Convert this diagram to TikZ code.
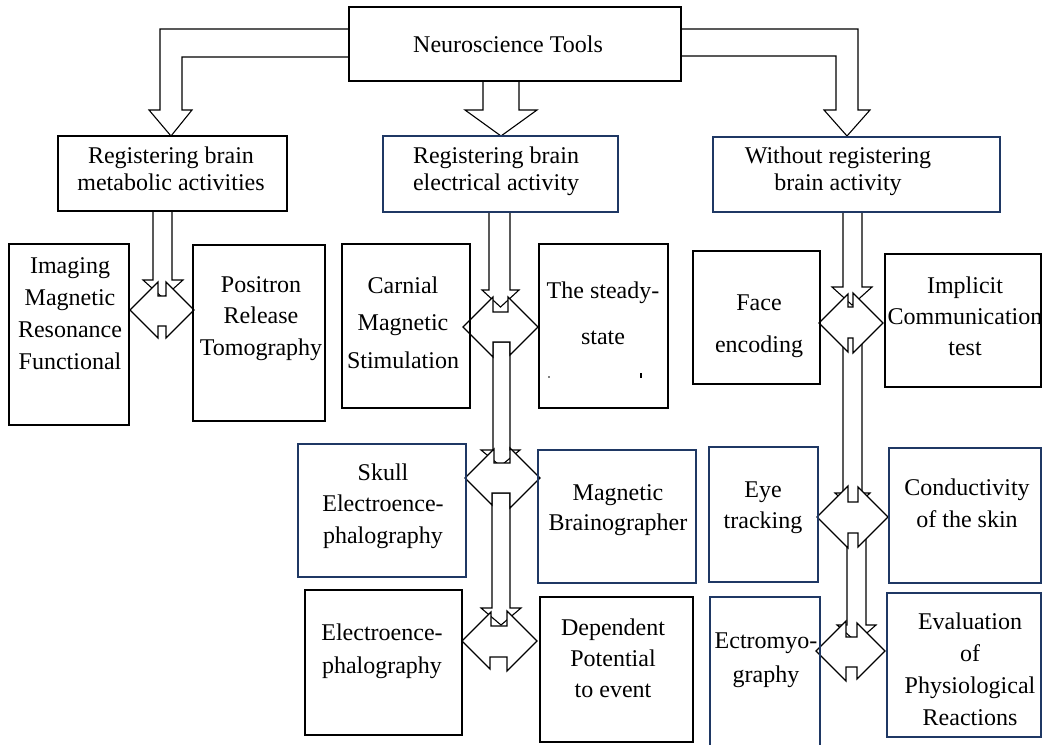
\documentclass[tikz,border=0pt]{standalone}
\usepackage{fontspec}
\setmainfont{Liberation Serif}
\usetikzlibrary{fit}
\definecolor{navy}{RGB}{31,56,100}
\tikzset{
  blk/.style={draw=black, line width=2.7pt, inner sep=0pt},
  nvy/.style={draw=navy, line width=2.5pt, inner sep=0pt},
  txt/.style={align=center, inner sep=0pt, anchor=base, font=\fontsize{24}{#1}\selectfont},
  txt/.default=32,
  blockarrow/.style={draw=black, fill=white, line width=1.1pt, line join=miter},
}
\newcommand\dnarrow[7]{%
  \draw[blockarrow] (#1,#3) -- (#1,#4) -- (#5,#4) -- ({(#5+#6)/2},#7) -- (#6,#4) -- (#2,#4) -- (#2,#3) -- cycle;}
\newcommand\junc[9]{%
  \pgfmathsetmacro\jtly{#2-#3+abs(#4-#1)}%
  \pgfmathsetmacro\jtry{#2-#3+abs(#5-#1)}%
  \pgfmathsetmacro\jbly{#2+#3-abs(#7-#1)}%
  \pgfmathsetmacro\jbry{#2+#3-abs(#8-#1)}%
  \draw[blockarrow] ({#1-#3},#2) -- (#4,\jtly) -- (#4,#6) -- (#5,#6) -- (#5,\jtry) -- ({#1+#3},#2) -- (#8,\jbry) -- (#8,#9) -- (#7,#9) -- (#7,\jbly) -- cycle;}
\begin{document}
\begin{tikzpicture}[x=1pt,y=-1pt]
\useasboundingbox (0,0) rectangle (1043,744);
\clip (0,0) rectangle (1043,744);
\fill[white] (0,0) rectangle (1043,744);

% top level arrows
\draw[blockarrow] (349,29) -- (160,29) -- (160,110) -- (149,110) -- (171,136) -- (192,110) -- (182,110) -- (182,57) -- (349,57);
\draw[blockarrow] (483,81) -- (483,110) -- (465,110) -- (501,136) -- (537,110) -- (519,110) -- (519,81);
\draw[blockarrow] (681,29) -- (858,29) -- (858,110) -- (870,110) -- (847,136) -- (824,110) -- (836,110) -- (836,56) -- (681,56);

% column arrows
\dnarrow{153}{172}{211}{280}{143}{183}{298}
\dnarrow{489}{510}{212}{290}{482}{519}{307}
\dnarrow{493}{510}{342}{450}{481}{520}{466}
\dnarrow{492}{510}{493}{608}{481}{521}{625}
\dnarrow{843}{862}{212}{287}{832}{872}{305}
\dnarrow{843}{862}{335}{493}{835}{870}{510}
\dnarrow{847}{866}{530}{625}{837}{876}{642}

% junctions
\junc{162}{310}{32}{158}{166}{296}{158}{166}{326}
\junc{500.5}{327}{37.5}{493}{508}{312}{493}{510}{342}
\junc{502.5}{478}{37.5}{494}{510}{463}{492}{510}{493}
\junc{499.5}{641}{37.5}{491}{507}{626}{490}{507}{657}
\junc{851}{323}{32}{848}{853}{307}{848}{853}{338}
\junc{852.5}{517}{35.5}{848}{858}{502}{848}{858}{533}
\junc{850.5}{651}{34.5}{846}{857}{637}{846}{857}{667}

% boxes
\node[blk, fit={(349,7) (681,81)}] (root) {};
\node[blk, fit={(58,136) (287,211)}] (met) {};
\node[nvy, fit={(383,136) (618,212)}] (ele) {};
\node[nvy, fit={(713,137) (1000,212)}] (wo) {};
\node[blk, fit={(9,244) (129,425)}] (img) {};
\node[blk, fit={(193,245) (325,421)}] (pos) {};
\node[blk, fit={(342,244) (470,408)}] (car) {};
\node[blk, fit={(539,244) (668,408)}] (ssr) {};
\node[blk, fit={(693,251) (820,384)}] (face) {};
\node[blk, fit={(885,254) (1041,387)}] (impl) {};
\node[nvy, fit={(298,444) (466,577)}] (skull) {};
\node[nvy, fit={(538,450) (696,583)}] (mag) {};
\node[blk, fit={(305,590) (462,735)}] (eeg) {};
\node[blk, fit={(540,597) (693,742)}] (erp) {};
\node[nvy, fit={(709,447) (818,582)}] (eye) {};
\node[nvy, fit={(889,448) (1041,583)}] (cond) {};
\node[nvy, fit={(710,597) (820,752)}] (emg) {};
\node[nvy, fit={(887,593) (1041,737)}] (eval) {};

% texts (anchor = baseline of last line)
\node[txt] (troot) at (508,52) {Neuroscience Tools};
\node[txt=27] (tmet) at (171,190) {Registering brain\\metabolic activities};
\node[txt=27] (tele) at (496,190) {Registering brain\\electrical activity};
\node[txt=27] (two) at (838,190) {Without registering\\brain activity};
\node[txt=32] (timg) at (70,369) {Imaging\\Magnetic\\Resonance\\Functional};
\node[txt=31.5] (tpos) at (261,355) {Positron\\Release\\Tomography};
\node[txt=37.5] (tcar) at (403,368) {Carnial\\Magnetic\\Stimulation};
\node[txt=46] (tssr) at (603,344) {The steady-\\state};
\fill (549,377) circle (0.8);
\fill (639.5,372.5) rectangle (641.5,378);
\node[txt=42] (tface) at (759,352) {Face\\encoding};
\node[txt=31] (timpl) at (965,355) {Implicit\\Communication\\test};
\node[txt=31.5] (tskull) at (383,543) {Skull\\Electroence-\\phalography};
\node[txt=30] (tmag) at (618,530) {Magnetic\\Brainographer};
\node[txt=33] (teeg) at (382,673) {Electroence-\\phalography};
\node[txt=31] (terp) at (613,697) {Dependent\\Potential\\to event};
\node[txt=31] (teye) at (763,528) {Eye\\tracking};
\node[txt=32] (tcond) at (967,527) {Conductivity\\of the skin};
\node[txt=34] (temg) at (766,682) {Ectromyo-\\graphy};
\node[txt=31.7] (teval) at (970,725) {Evaluation\\of\\Physiological\\Reactions};
\end{tikzpicture}
\end{document}
